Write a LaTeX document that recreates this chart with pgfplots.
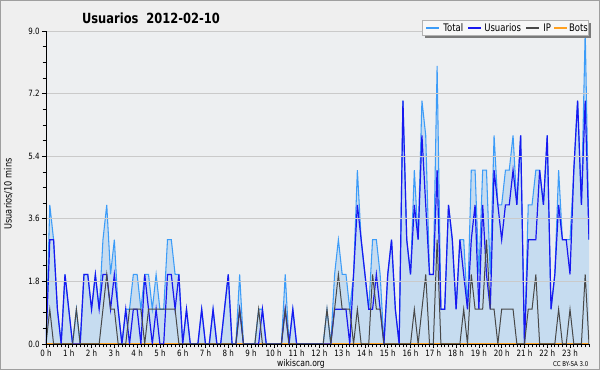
\documentclass[border=0pt]{standalone}
\usepackage{fontspec}
\setmainfont{DejaVu Sans}[FakeStretch=0.82]
\usepackage{pgfplots}
\usepackage{pgfplotstable}
\pgfplotsset{compat=1.18}
\definecolor{bgc}{HTML}{EFEFEF}
\definecolor{plotbg}{HTML}{EDEFF1}
\definecolor{fillc}{HTML}{C6DCF0}
\definecolor{totalc}{HTML}{3C9CF8}
\definecolor{userc}{HTML}{1818F0}
\definecolor{ipc}{HTML}{484848}
\definecolor{botc}{HTML}{FFA020}
\definecolor{gridc}{HTML}{CACACA}
\definecolor{shadc}{HTML}{7A7A7A}
\definecolor{legc}{HTML}{F7F7F7}

\pgfplotstableread{
i T U P B
0 0 0 0 0
1 4 3 1 0
2 3 3 0 0
3 1 1 0 0
4 0 0 0 0
5 2 2 0 0
6 1 1 0 0
7 0 0 0 0
8 1 0 1 0
9 0 0 0 0
10 2 2 0 0
11 2 2 0 0
12 1 1 0 0
13 2 2 0 0
14 1 1 0 0
15 3 2 1 0
16 4 2 2 0
17 2 1 1 0
18 3 2 1 0
19 1 1 0 0
20 0 0 0 0
21 1 1 0 0
22 1 0 1 0
23 2 1 1 0
24 2 1 1 0
25 1 0 1 0
26 2 2 0 0
27 2 1 1 0
28 1 0 1 0
29 2 1 1 0
30 1 0 1 0
31 1 0 1 0
32 3 2 1 0
33 3 2 1 0
34 2 1 1 0
35 2 2 0 0
36 0 0 0 0
37 1 1 0 0
38 0 0 0 0
39 0 0 0 0
40 0 0 0 0
41 1 1 0 0
42 0 0 0 0
43 0 0 0 0
44 1 1 0 0
45 0 0 0 0
46 0 0 0 0
47 1 1 0 0
48 2 2 0 0
49 0 0 0 0
50 0 0 0 0
51 2 1 1 0
52 0 0 0 0
53 0 0 0 0
54 0 0 0 0
55 0 0 0 0
56 1 0 1 0
57 1 1 0 0
58 0 0 0 0
59 0 0 0 0
60 0 0 0 0
61 0 0 0 0
62 0 0 0 0
63 2 1 1 0
64 0 0 0 0
65 1 1 0 0
66 0 0 0 0
67 0 0 0 0
68 0 0 0 0
69 0 0 0 0
70 0 0 0 0
71 0 0 0 0
72 0 0 0 0
73 0 0 0 0
74 1 0 1 0
75 0 0 0 0
76 2 1 1 0
77 3 1 2 0
78 2 1 1 0
79 2 1 1 0
80 1 0 1 0
81 2 2 0 0
82 5 4 1 0
83 3 3 0 0
84 2 2 0 0
85 1 1 0 0
86 3 1 2 0
87 3 2 1 0
88 2 1 1 0
89 0 0 0 0
90 2 2 0 0
91 3 3 0 0
92 1 1 0 0
93 0 0 0 0
94 7 7 0 0
95 3 3 0 0
96 2 2 0 0
97 5 4 1 0
98 3 3 0 0
99 7 6 1 0
100 6 4 2 0
101 2 2 0 0
102 2 2 0 0
103 8 5 3 0
104 1 1 0 0
105 1 1 0 0
106 4 4 0 0
107 3 3 0 0
108 1 1 0 0
109 3 3 0 0
110 3 2 1 0
111 1 1 0 0
112 5 3 2 0
113 5 4 1 0
114 2 1 1 0
115 5 4 1 0
116 5 2 3 0
117 2 1 1 0
118 6 5 1 0
119 4 4 0 0
120 4 3 1 0
121 5 4 1 0
122 5 4 1 0
123 6 5 1 0
124 4 4 0 0
125 6 6 0 0
126 0 0 0 0
127 4 3 1 0
128 4 3 1 0
129 5 3 2 0
130 5 5 0 0
131 4 4 0 0
132 6 6 0 0
133 1 1 0 0
134 2 2 0 0
135 5 4 1 0
136 3 3 0 0
137 3 3 0 0
138 3 2 1 0
139 5 5 0 0
140 7 7 0 0
141 4 4 0 0
142 9 7 2 0
143 3 3 0 0
}\data

\begin{document}
\begin{tikzpicture}
\fill[bgc] (0,0) rectangle (450pt,277.5pt);
\draw[gray!75, line width=0.75pt] (0.375pt,0.375pt) rectangle (449.625pt,277.125pt);
\useasboundingbox (0,0) rectangle (450pt,277.5pt);
\begin{axis}[
  at={(34.5pt,19.5pt)}, anchor=south west,
  scale only axis, width=407.25pt, height=234.75pt,
  xmin=0, xmax=143, ymin=0, ymax=9,
  axis on top,
  axis background/.style={fill=plotbg},
  axis x line=bottom, axis y line=left,
  axis line style={-, black, line width=0.6pt},
  xtick={0,6,...,138},
  xticklabels={0 h,1 h,2 h,3 h,4 h,5 h,6 h,7 h,8 h,9 h,10 h,11 h,12 h,13 h,14 h,15 h,16 h,17 h,18 h,19 h,20 h,21 h,22 h,23 h},
  minor xtick={0,1,...,143},
  ytick={0,1.8,3.6,5.4,7.2,9},
  yticklabels={0.0,1.8,3.6,5.4,7.2,9.0},
  minor ytick={0.45,0.9,1.35,2.25,2.7,3.15,4.05,4.5,4.95,5.85,6.3,6.75,7.65,8.1,8.55},
  tick align=outside,
  major tick length=3pt, minor tick length=2.5pt,
  tick style={black, line width=0.5pt},
  ymajorgrids, grid style={gridc, line width=0.6pt},
  tick label style={font=\fontsize{6.5}{7}\selectfont},
  xticklabel style={inner sep=1pt},
  yticklabel style={inner sep=1.5pt},
]
\addplot[fill=fillc, draw=none] table[x=i, y=T] {\data} \closedcycle;
\addplot[botc, line width=0.8pt] table[x=i, y=B] {\data};
\addplot[totalc, line width=0.8pt] table[x=i, y=T] {\data};
\addplot[userc, line width=0.9pt] table[x=i, y=U] {\data};
\addplot[ipc, line width=0.75pt] table[x=i, y=P] {\data};
\end{axis}
% legend
\fill[shadc] (318.75pt,249pt) rectangle (443.6pt,260.25pt);
\filldraw[fill=legc, draw=gray!60, line width=0.5pt] (316.5pt,251.25pt) rectangle (441.4pt,262.5pt);
\draw[totalc, line width=1pt] (319.5pt,256.6pt) -- (329.25pt,256.6pt);
\draw[userc, line width=1pt] (351pt,256.6pt) -- (360.75pt,256.6pt);
\draw[ipc, line width=1pt] (394.5pt,256.6pt) -- (404.25pt,256.6pt);
\draw[botc, line width=1pt] (415.5pt,256.6pt) -- (425.25pt,256.6pt);
\begin{scope}[every node/.style={anchor=base west, inner sep=0pt, font=\fontsize{7.8}{9}\selectfont}]
\node at (332.25pt,253.9pt) {Total};
\node at (363pt,253.9pt) {Usuarios};
\node at (407.25pt,253.9pt) {IP};
\node at (426.6pt,253.9pt) {Bots};
\end{scope}
\node[font=\bfseries\fontsize{10.5}{12}\selectfont] at (113.25pt,264pt) {Usuarios\ \ 2012-02-10};
\node[rotate=90, font=\fontsize{7.5}{9}\selectfont] at (6.2pt,132pt) {Usuarios/10 mins};
\node[font=\fontsize{7}{8}\selectfont] at (225.75pt,4.8pt) {wikiscan.org};
\node[font=\fontsize{5}{6}\selectfont] at (428pt,4.8pt) {CC BY-SA 3.0};
\end{tikzpicture}
\end{document}
